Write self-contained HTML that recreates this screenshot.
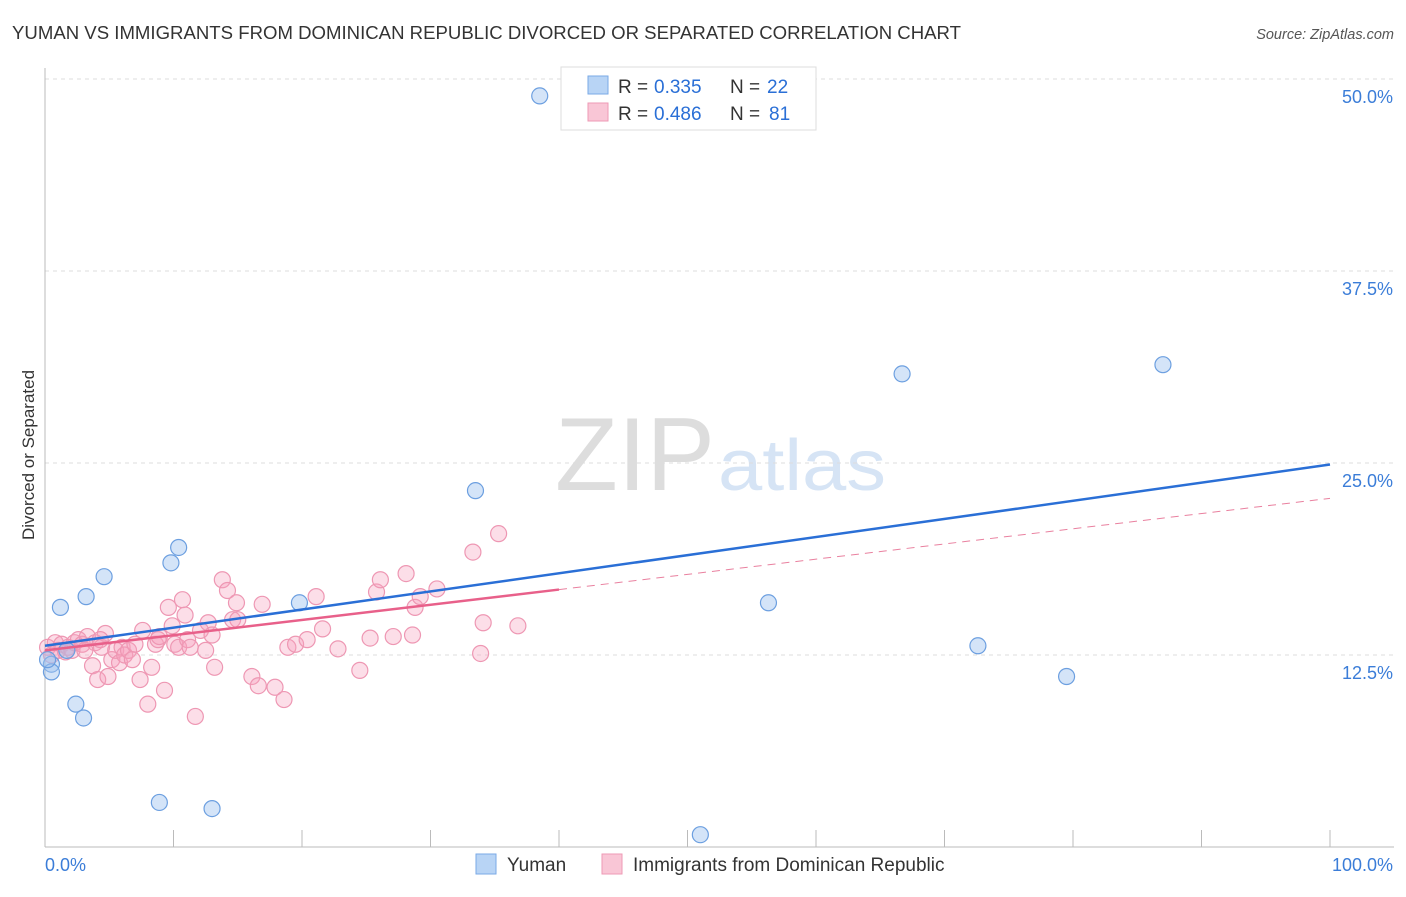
<!DOCTYPE html>
<html><head><meta charset="utf-8"><style>
body{margin:0;background:#fff;font-family:"Liberation Sans",sans-serif;}
svg text{font-family:"Liberation Sans",sans-serif;}
</style></head><body>
<svg id="chart" width="1406" height="892">
<text x="12" y="39" font-size="18" textLength="949" lengthAdjust="spacingAndGlyphs" fill="#333">YUMAN VS IMMIGRANTS FROM DOMINICAN REPUBLIC DIVORCED OR SEPARATED CORRELATION CHART</text>
<text x="1394" y="39" font-size="14.5" fill="#555" text-anchor="end" font-style="italic">Source: ZipAtlas.com</text>
<text x="555" y="490" font-size="104" textLength="160" lengthAdjust="spacingAndGlyphs" fill="#ddd" font-family="Liberation Serif">ZIP</text>
<text x="718" y="490" font-size="72" textLength="168" lengthAdjust="spacingAndGlyphs" fill="#d6e4f5">atlas</text>
<text transform="translate(34,455) rotate(-90)" font-size="17" fill="#333" text-anchor="middle">Divorced or Separated</text>
<g id="grid"></g><g id="axes"></g><g id="marks"></g>
<g>
<rect x="561" y="67" width="255" height="63" fill="#fff" stroke="#ddd"/>
<rect x="588" y="76" width="20" height="18" fill="#b8d4f5" stroke="#7aaae6"/>
<rect x="588" y="103" width="20" height="18" fill="#f9c6d6" stroke="#ee9ab5"/>
<text x="618" y="93" font-size="19" fill="#333">R = </text><text x="654" y="93" font-size="19" fill="#2a6fd6">0.335</text>
<text x="730" y="93" font-size="19" fill="#333">N = </text><text x="767" y="93" font-size="19" fill="#2a6fd6">22</text>
<text x="618" y="120" font-size="19" fill="#333">R = </text><text x="654" y="120" font-size="19" fill="#2a6fd6">0.486</text>
<text x="730" y="120" font-size="19" fill="#333">N = </text><text x="769" y="120" font-size="19" fill="#2a6fd6">81</text>
</g>
<g>
<rect x="476" y="854" width="20" height="20" fill="#b8d4f5" stroke="#7aaae6"/>
<text x="507" y="871" font-size="19" fill="#333">Yuman</text>
<rect x="602" y="854" width="20" height="20" fill="#f9c6d6" stroke="#ee9ab5"/>
<text x="633" y="871" font-size="19" fill="#333">Immigrants from Dominican Republic</text>
</g>
</svg>
<script>
const yTicks=[12.5,25,37.5,50];
const yTickLabels=["12.5%","25.0%","37.5%","50.0%"];
const xTickLabels=["0.0%","100.0%"];
const blueX=[38.5,66.7,87.0,33.5,10.4,9.8,4.6,3.2,1.2,19.8,56.3,72.6,79.5,0.5,0.5,2.4,3.0,8.9,13.0,51.0,1.7,0.2];
const blueY=[48.9,30.8,31.4,23.2,19.5,18.5,17.6,16.3,15.6,15.9,15.9,13.1,11.1,11.9,11.4,9.3,8.4,2.9,2.5,0.8,12.8,12.2];
const pinkX=[0.2,0.5,0.8,1.0,1.3,1.6,1.8,2.1,2.3,2.6,2.9,3.3,3.7,3.9,4.1,4.4,4.7,4.9,5.2,5.5,5.8,6.0,6.2,6.5,6.8,7.0,7.4,7.6,8.0,8.3,8.6,8.8,8.9,9.3,9.6,9.9,10.1,10.4,10.7,10.9,11.1,11.3,11.7,12.1,12.5,12.7,13.0,13.2,13.8,14.2,14.6,14.9,15.0,16.1,16.6,16.9,17.9,18.6,18.9,19.5,20.4,21.1,21.6,22.8,24.5,25.3,25.8,26.1,27.1,28.1,28.6,28.8,29.2,30.5,33.3,33.9,34.1,35.3,36.8,4.3,3.1];
const pinkY=[13.0,12.5,13.3,12.8,13.2,12.7,13.0,12.8,13.3,13.5,13.2,13.7,11.8,13.3,10.9,13.0,13.9,11.1,12.2,12.8,12.0,13.0,12.5,12.8,12.2,13.2,10.9,14.1,9.3,11.7,13.2,13.5,13.7,10.2,15.6,14.4,13.2,13.0,16.1,15.1,13.5,13.0,8.5,14.1,12.8,14.6,13.8,11.7,17.4,16.7,14.8,15.9,14.8,11.1,10.5,15.8,10.4,9.6,13.0,13.2,13.5,16.3,14.2,12.9,11.5,13.6,16.6,17.4,13.7,17.8,13.8,15.6,16.3,16.8,19.2,12.6,14.6,20.4,14.4,13.5,12.8];
const blueLine=[13.1,24.9];
const pinkLine=[12.8,22.7];
const pinkSolidEnd=40;
const NS="http://www.w3.org/2000/svg";
const sx=v=>45+v*12.85, sy=v=>847-v*15.36;
function mk(tag,attrs,parent){const e=document.createElementNS(NS,tag);for(const k in attrs)e.setAttribute(k,attrs[k]);document.getElementById(parent).appendChild(e);return e;}
yTicks.forEach((t,i)=>{
 const g=mk('line',{x1:45,x2:1394,y1:sy(t),y2:sy(t),stroke:'#ddd','stroke-dasharray':'4,4'},'grid');
 
 
 const l=mk('text',{x:1393,y:sy(t)+24,'font-size':18,fill:'#3b7dd8','text-anchor':'end'},'axes');
 l.textContent=yTickLabels[i];
 
 
});
const ax=mk('line',{x1:45,x2:45,y1:68,y2:847,stroke:'#bbb'},'axes');


const bx=mk('line',{x1:45,x2:1394,y1:847,y2:847,stroke:'#bbb'},'axes');


for(let i=0;i<=10;i++){const t=mk('line',{x1:sx(i*10),x2:sx(i*10),y1:830,y2:847,stroke:'#bbb'},'axes');
 
 }
[[0,'start',45],[1,'end',1393]].forEach(([i,a,x])=>{const l=mk('text',{x:x,y:871,'font-size':18,fill:'#3b7dd8','text-anchor':a},'axes');l.textContent=xTickLabels[i];
 
 });
pinkX.forEach((x,i)=>{const c=mk('circle',{cx:sx(x),cy:sy(pinkY[i]),r:8,fill:'rgba(246,160,190,0.35)',stroke:'#ee97b3','stroke-width':1.2},'marks');
 
 });
blueX.forEach((x,i)=>{const c=mk('circle',{cx:sx(x),cy:sy(blueY[i]),r:8,fill:'rgba(160,195,240,0.45)',stroke:'#6c9fe0','stroke-width':1.2},'marks');
 
 });
const pAt=x=>pinkLine[0]+(pinkLine[1]-pinkLine[0])*x/100;
const pd=mk('line',{x1:sx(pinkSolidEnd),y1:sy(pAt(pinkSolidEnd)),x2:sx(100),y2:sy(pinkLine[1]),stroke:'#e9809f','stroke-width':1,'stroke-dasharray':'8,6'},'marks');


const ps=mk('line',{x1:sx(0),y1:sy(pinkLine[0]),x2:sx(pinkSolidEnd),y2:sy(pAt(pinkSolidEnd)),stroke:'#e8608a','stroke-width':2.5},'marks');


const bl=mk('line',{x1:sx(0),y1:sy(blueLine[0]),x2:sx(100),y2:sy(blueLine[1]),stroke:'#2a6fd6','stroke-width':2.5},'marks');


</script>
</body></html>
